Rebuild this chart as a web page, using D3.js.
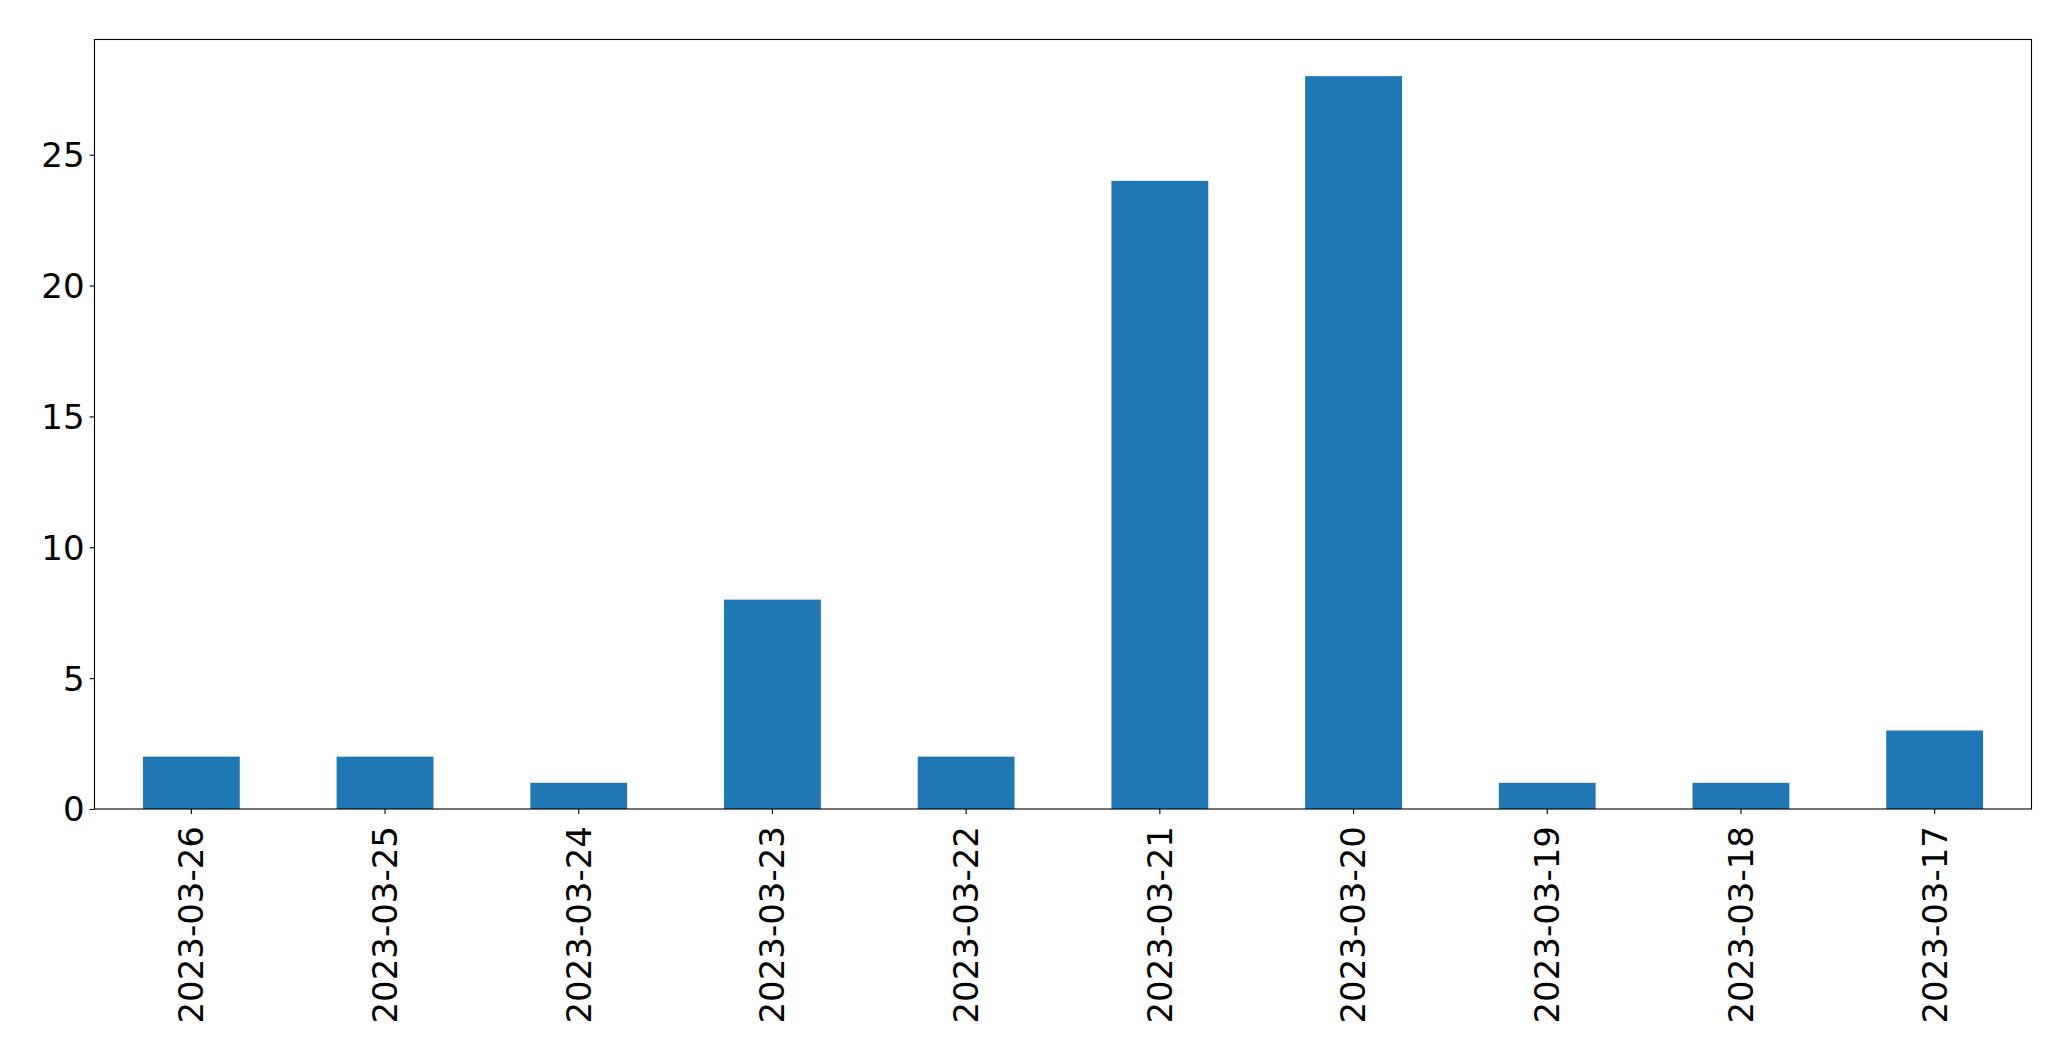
<!DOCTYPE html>
<html>
<head>
<meta charset="utf-8">
<script src="https://cdn.jsdelivr.net/npm/d3@7"></script>
<style>
  html, body { margin: 0; padding: 0; background: #fff; }
  svg text { font-family: "DejaVu Sans", sans-serif; fill: #000; }
</style>
</head>
<body>
<svg id="chart" width="2071" height="1061"></svg>
<script>
const categories = ["2023-03-26","2023-03-25","2023-03-24","2023-03-23","2023-03-22","2023-03-21","2023-03-20","2023-03-19","2023-03-18","2023-03-17"];
const values = [2, 2, 1, 8, 2, 24, 28, 1, 1, 3];
const yTicks = [0, 5, 10, 15, 20, 25];

const margin = { left: 94.5, right: 2071 - 2031.5, top: 39.5, bottom: 1061 - 809 };
const W = 2071, H = 1061;
const iw = W - margin.left - margin.right;
const ih = H - margin.top - margin.bottom;

const svg = d3.select("#chart");
const g = svg.append("g").attr("transform", `translate(${margin.left},${margin.top})`);

const x = d3.scaleBand().domain(categories).range([0, iw]).paddingInner(0.5).paddingOuter(0.25);
const y = d3.scaleLinear().domain([0, d3.max(values) * 1.05]).range([ih, 0]);

g.selectAll("rect.bar").data(values).enter().append("rect")
  .attr("class", "bar")
  .attr("x", (d, i) => x(categories[i]))
  .attr("width", x.bandwidth())
  .attr("y", d => y(d))
  .attr("height", d => y(0) - y(d))
  .attr("fill", "#1f77b4");

const fs = 34;
// Y axis
const yAxis = g.append("g").call(d3.axisLeft(y).tickValues(yTicks).tickSize(4.9).tickPadding(5).tickFormat(d3.format("d")));
yAxis.select(".domain").remove();
yAxis.selectAll(".tick line").attr("stroke", "#000").attr("stroke-width", 1.1);
yAxis.selectAll("text").style("font-size", fs + "px").attr("dy", "0.35em");

// X axis
const xAxis = g.append("g").attr("transform", `translate(0,${ih})`)
  .call(d3.axisBottom(x).tickSize(4.9).tickPadding(0));
xAxis.select(".domain").remove();
xAxis.selectAll(".tick line").attr("stroke", "#000").attr("stroke-width", 1.1);
xAxis.selectAll("text")
  .style("font-size", fs + "px")
  .attr("transform", "rotate(-90)")
  .attr("text-anchor", "end")
  .attr("x", -17)
  .attr("y", 0)
  .attr("dy", "0.35em");

// Frame (spines)
g.append("rect").attr("x", 0).attr("y", 0).attr("width", iw).attr("height", ih)
  .attr("fill", "none").attr("stroke", "#000").attr("stroke-width", 1.1);
</script>
</body>
</html>
